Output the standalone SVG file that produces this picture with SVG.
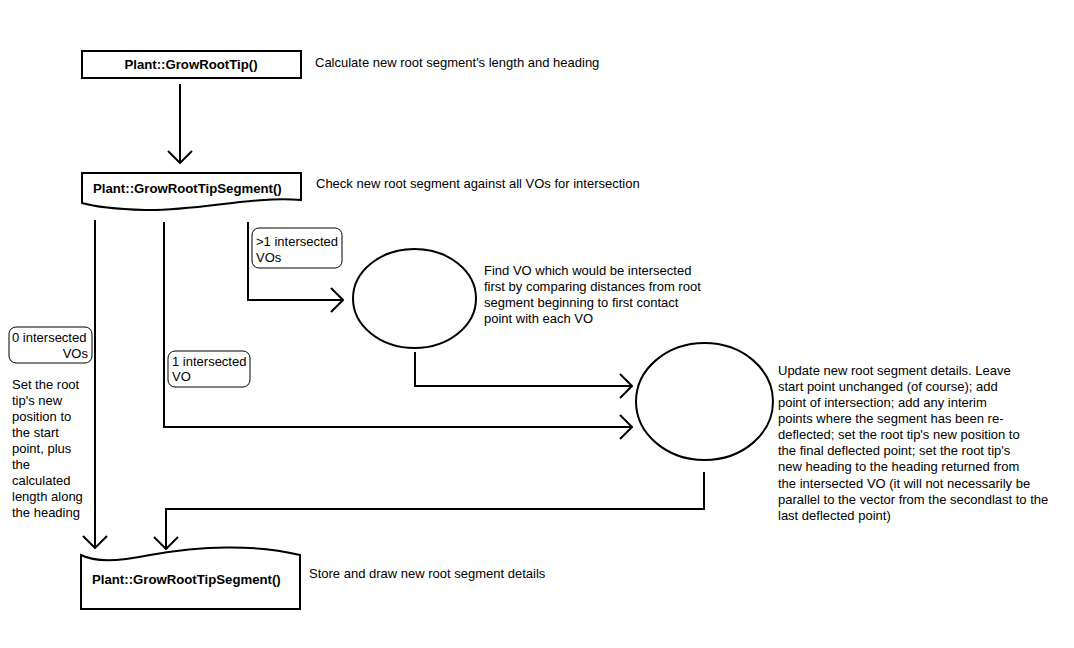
<svg xmlns="http://www.w3.org/2000/svg" width="1074" height="648" viewBox="0 0 1074 648">
<style>
.shape{fill:none;stroke:#000;stroke-width:2}
.lbl{fill:#fff;stroke:#000;stroke-width:1}
.edge{fill:none;stroke:#000;stroke-width:2}
text{font-family:"Liberation Sans",Arial,sans-serif;font-size:13px;fill:#000}
.b{font-weight:bold;font-size:13.2px}
</style>
<defs>
<marker id="arr" markerUnits="userSpaceOnUse" viewBox="0 0 14 26" refX="13" refY="13" markerWidth="14" markerHeight="26" orient="auto">
<path d="M1,1 L13,13 L1,25" fill="none" stroke="#000" stroke-width="2"/>
</marker>
</defs>
<rect x="0" y="0" width="1074" height="648" fill="#fff"/>
<g id="connectors">
<path class="edge" d="M180,84 V163" marker-end="url(#arr)"/>
<path class="edge" d="M95,220 V548" marker-end="url(#arr)"/>
<path class="edge" d="M164,222 V427 H632" marker-end="url(#arr)"/>
<path class="edge" d="M248,222 V300 H343" marker-end="url(#arr)"/>
<path class="edge" d="M415,352 V386 H632" marker-end="url(#arr)"/>
<path class="edge" d="M704,472 V509 H166 V549" marker-end="url(#arr)"/>
</g>
<g id="growRootTip">
<rect class="shape" x="82" y="51" width="219" height="27"/>
<text class="b" x="191" y="69" text-anchor="middle">Plant::GrowRootTip()</text>
<text x="315" y="67">Calculate new root segment's length and heading</text>
</g>
<g id="growRootTipSegment1">
<path class="shape" d="M82,173 H301 V200 C250,196 200,211 145,210 C112,209 92,206 82,203 Z"/>
<text class="b" x="93" y="193">Plant::GrowRootTipSegment()</text>
<text x="316" y="188">Check new root segment against all VOs for intersection</text>
</g>
<g id="label-many">
<rect class="lbl" x="252" y="228" width="90" height="40" rx="7"/>
<text x="256" y="246">&gt;1 intersected</text>
<text x="256" y="262">VOs</text>
</g>
<g id="label-zero">
<rect class="lbl" x="9" y="327" width="83" height="36" rx="7"/>
<text x="12" y="342">0 intersected</text>
<text x="88" y="358" text-anchor="end">VOs</text>
</g>
<g id="label-one">
<rect class="lbl" x="168" y="351" width="82" height="36" rx="7"/>
<text x="172" y="366">1 intersected</text>
<text x="172" y="381">VO</text>
</g>
<g id="note-zero">
<text x="12" y="389">Set the root</text>
<text x="12" y="405">tip's new</text>
<text x="12" y="421">position to</text>
<text x="12" y="437">the start</text>
<text x="12" y="453">point, plus</text>
<text x="12" y="469">the</text>
<text x="12" y="485">calculated</text>
<text x="12" y="501">length along</text>
<text x="12" y="517">the heading</text>
</g>
<g id="findVO">
<ellipse class="shape" cx="414.5" cy="298.5" rx="61.5" ry="49.5"/>
<text x="484" y="275">Find VO which would be intersected</text>
<text x="484" y="291">first by comparing distances from root</text>
<text x="484" y="307">segment beginning to first contact</text>
<text x="484" y="323">point with each VO</text>
</g>
<g id="update">
<ellipse class="shape" cx="704.5" cy="401.5" rx="68.5" ry="58.5"/>
<text x="778" y="375">Update new root segment details. Leave</text>
<text x="778" y="391">start point unchanged (of course); add</text>
<text x="778" y="407">point of intersection; add any interim</text>
<text x="778" y="423">points where the segment has been re-</text>
<text x="778" y="439">deflected; set the root tip's new position to</text>
<text x="778" y="455">the final deflected point; set the root tip's</text>
<text x="778" y="471">new heading to the heading returned from</text>
<text x="778" y="488">the intersected VO (it will not necessarily be</text>
<text x="778" y="504">parallel to the vector from the secondlast to the</text>
<text x="778" y="520">last deflected point)</text>
</g>
<g id="growRootTipSegment2">
<path class="shape" d="M81,555 C95,562 115,562 150,555 C200,546 255,544 300,555 V609 H81 Z"/>
<text class="b" x="92" y="584">Plant::GrowRootTipSegment()</text>
<text x="309" y="578">Store and draw new root segment details</text>
</g>
</svg>
